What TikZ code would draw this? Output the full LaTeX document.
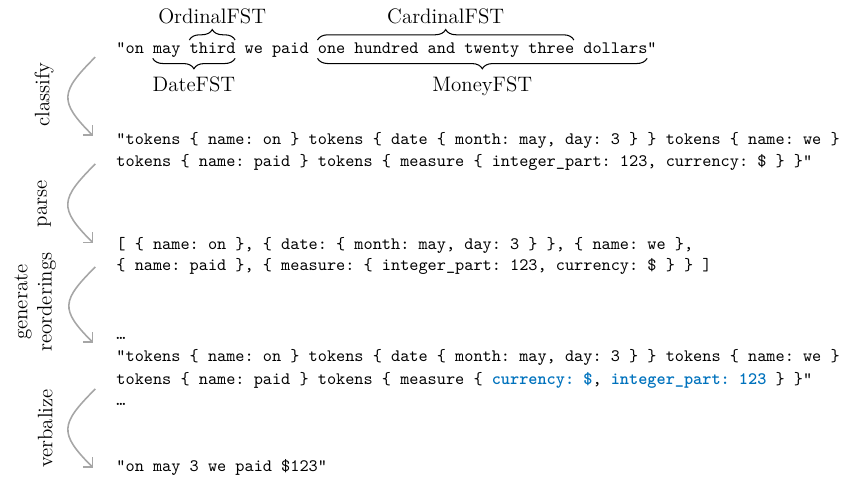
\documentclass[tikz,border=0pt]{standalone}
\usepackage{tikz}
\usetikzlibrary{arrows.meta}
\usetikzlibrary{decorations.pathreplacing}
\definecolor{reorderblue}{RGB}{0,114,189}
\newcommand{\chw}{5.25pt}
\tikzstyle{tok} = [font=\ttfamily\frenchspacing, anchor=base west, inner sep=0pt]
\tikzstyle{fst} = [font=\large, inner sep=0pt]
\tikzstyle{overb} = [decorate, decoration={brace, amplitude=6pt}, line width=0.6pt]
\tikzstyle{underb} = [decorate, decoration={brace, mirror, amplitude=6pt}, line width=0.6pt]
\tikzstyle{stage} = [font=\large, rotate=90, align=center]
\tikzstyle{flow} = [-{Straight Barb[length=4pt,width=8pt]}, draw=black!35, line width=0.9pt, out=225, in=135, looseness=1.6]
\newcommand{\swapped}[1]{\textcolor{reorderblue}{\bfseries #1}}

\begin{document}
\begin{tikzpicture}
\useasboundingbox (0,0) rectangle (16.99,-9.75);
% input sentence and its FSTs
\node (plain) [tok] at (2.34,-1.07) {"on may third we paid one hundred and twenty three dollars"};
\draw [overb] ([xshift=8*\chw,yshift=7.5pt]plain.base west) -- node[fst, above=9pt] {OrdinalFST} ([xshift=13*\chw,yshift=7.5pt]plain.base west);
\draw [underb] ([xshift=4*\chw,yshift=-3pt]plain.base west) -- node[fst, below=10.5pt] {DateFST} ([xshift=13*\chw,yshift=-3pt]plain.base west);
\draw [overb] ([xshift=22*\chw,yshift=7.5pt]plain.base west) -- node[fst, above=9pt] {CardinalFST} ([xshift=50*\chw,yshift=7.5pt]plain.base west);
\draw [underb] ([xshift=22*\chw,yshift=-3pt]plain.base west) -- node[fst, below=10.5pt] {MoneyFST} ([xshift=58*\chw,yshift=-3pt]plain.base west);

% tokens, list, reorderings, output
\node (cls1) [tok] at (2.34,-2.92) {"tokens \{ name: on \} tokens \{ date \{ month: may, day: 3 \} \} tokens \{ name: we \}};
\node (cls2) [tok] at (2.34,-3.365) {tokens \{ name: paid \} tokens \{ measure \{ integer\_part: 123, currency: \$ \} \}"};
\node (prs1) [tok] at (2.34,-5.02) {[ \{ name: on \}, \{ date: \{ month: may, day: 3 \} \}, \{ name: we \},};
\node (prs2) [tok] at (2.34,-5.46) {\{ name: paid \}, \{ measure: \{ integer\_part: 123, currency: \$ \} \} ]};
\node (ord0) [tok] at (2.34,-6.85) {…};
\node (ord1) [tok] at (2.34,-7.29) {"tokens \{ name: on \} tokens \{ date \{ month: may, day: 3 \} \} tokens \{ name: we \}};
\node (ord2) [tok] at (2.34,-7.74) {tokens \{ name: paid \} tokens \{ measure \{ \swapped{currency: \$}, \swapped{integer\_part: 123} \} \}"};
\node (ord3) [tok] at (2.34,-8.18) {…};
\node (spoken) [tok] at (2.34,-9.51) {"on may 3 we paid \$123"};

% stages
\node (lclassify) [stage] at (0.89,-1.91) {classify};
\node (lparse) [stage] at (0.89,-4.11) {parse};
\node (lreorder) [stage] at (0.71,-6.09) {generate\\reorderings};
\node (lverbalize) [stage] at (0.91,-8.64) {verbalize};

\draw [flow] ([xshift=-0.42cm,yshift=-0.08cm]plain.base west) to ([xshift=-0.46cm,yshift=0.18cm]cls1.base west);
\draw [flow] ([xshift=-0.42cm,yshift=0.06cm]cls2.base west) to ([xshift=-0.46cm,yshift=0.12cm]prs1.base west);
\draw [flow] ([xshift=-0.42cm,yshift=0.08cm]prs2.base west) to ([xshift=-0.46cm,yshift=-0.06cm]ord0.base west);
\draw [flow] ([xshift=-0.42cm,yshift=-0.1cm]ord2.base west) to ([xshift=-0.46cm,yshift=0.08cm]spoken.base west);
\end{tikzpicture}
\end{document}
